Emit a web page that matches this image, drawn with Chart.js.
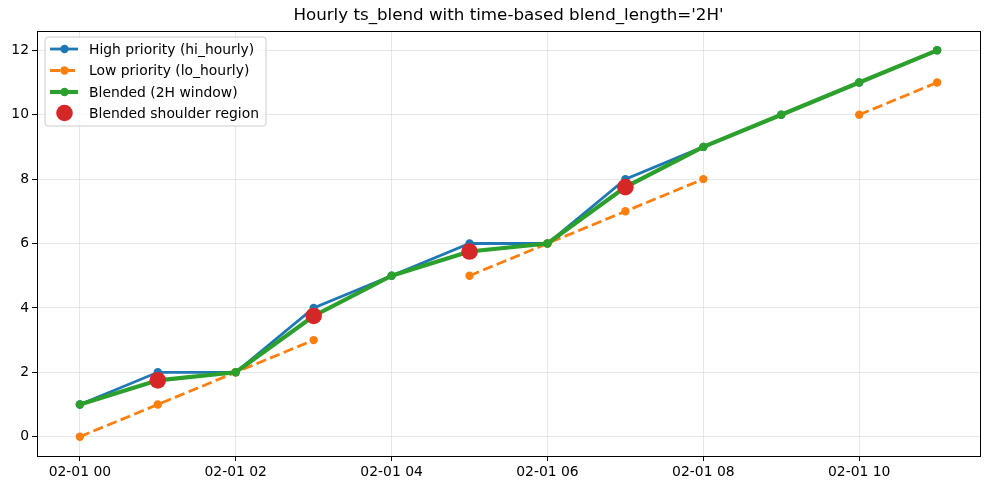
<!DOCTYPE html>
<html>
<head>
<meta charset="utf-8">
<script src="https://cdn.jsdelivr.net/npm/chart.js@4.4.1/dist/chart.umd.min.js"></script>
<style>
html,body{margin:0;padding:0;background:#fff;}
canvas{display:block;}
</style>
</head>
<body>
<canvas id="c" width="989" height="490"></canvas>
<script>
const hours = [0,1,2,3,4,5,6,7,8,9,10,11];
const hiHourly = [1,2,2,4,5,6,6,8,9,10,11,12];
const loHourly = [0,1,2,3,null,5,6,7,8,null,10,11];
const blended = [1,1.75,2,3.75,5,5.75,6,7.75,9,10,11,12];
const shoulderHours = [1,3,5,7];
const shoulderValues = [1.75,3.75,5.75,7.75];
const xTicks = [0,2,4,6,8,10];
const yTicks = [0,2,4,6,8,10,12];
const labels = {
  hi: 'High priority (hi_hourly)',
  lo: 'Low priority (lo_hourly)',
  bl: 'Blended (2H window)',
  sh: 'Blended shoulder region'
};
const titleText = "Hourly ts_blend with time-based blend_length='2H'";

const C = {blue:'#1f77b4', orange:'#ff7f0e', green:'#2ca02c', red:'#d62728'};
const FONT = 'DejaVu Sans';
const pts = (xs, ys) => xs.map((x,i)=>({x:x, y:ys[i]}));

const frame = {
  id:'frame',
  afterDatasetsDraw(chart){
    const {ctx, chartArea:a} = chart;
    ctx.save();
    ctx.strokeStyle = '#000';
    ctx.lineWidth = 1;
    ctx.strokeRect(Math.round(a.left)+0.5, Math.round(a.top)+0.5, Math.round(a.right-a.left), Math.round(a.bottom-a.top));
    // title centred over the axes
    ctx.fillStyle = '#000';
    ctx.font = '16.7px "' + FONT + '"';
    ctx.textAlign = 'center';
    ctx.textBaseline = 'middle';
    ctx.fillText(titleText, (a.left + a.right)/2, 15.5);
    ctx.restore();
    // legend
    const lx = 45, ly = 37, lw = 221, lh = 89, r = 3;
    ctx.save();
    ctx.beginPath();
    ctx.moveTo(lx+r, ly);
    ctx.arcTo(lx+lw, ly, lx+lw, ly+lh, r);
    ctx.arcTo(lx+lw, ly+lh, lx, ly+lh, r);
    ctx.arcTo(lx, ly+lh, lx, ly, r);
    ctx.arcTo(lx, ly, lx+lw, ly, r);
    ctx.closePath();
    ctx.fillStyle = 'rgba(255,255,255,0.8)';
    ctx.fill();
    ctx.strokeStyle = '#cccccc';
    ctx.lineWidth = 1;
    ctx.stroke();
    const rows = [
      {y:49, color:C.blue, lw:2.78, dash:[], r:4.2, line:true, text:labels.hi},
      {y:70.5, color:C.orange, lw:2.78, dash:[10.3,4.4], r:4.2, line:true, text:labels.lo},
      {y:92, color:C.green, lw:4.17, dash:[], r:4.2, line:true, text:labels.bl},
      {y:113, color:C.red, lw:0, dash:[], r:8.3, line:false, text:labels.sh}
    ];
    ctx.font = '13.9px "' + FONT + '"';
    ctx.textBaseline = 'middle';
    ctx.textAlign = 'left';
    rows.forEach(o=>{
      if(o.line){
        ctx.beginPath();
        ctx.setLineDash(o.dash);
        ctx.strokeStyle = o.color;
        ctx.lineWidth = o.lw;
        ctx.moveTo(50, o.y);
        ctx.lineTo(78, o.y);
        ctx.stroke();
        ctx.setLineDash([]);
      }
      ctx.beginPath();
      ctx.fillStyle = o.color;
      ctx.arc(64.5, o.y, o.r, 0, Math.PI*2);
      ctx.fill();
      ctx.fillStyle = '#000';
      ctx.fillText(o.text, 89, o.y+1);
    });
    ctx.restore();
  }
};

new Chart(document.getElementById('c'), {
  type:'line',
  data:{
    datasets:[
      {label:labels.hi, data:pts(hours, hiHourly), borderColor:C.blue, backgroundColor:C.blue,
       borderWidth:2.78, pointRadius:4.2, pointBorderWidth:0, pointBackgroundColor:C.blue, order:4, tension:0},
      {label:labels.lo, data:pts(hours, loHourly), borderColor:C.orange, backgroundColor:C.orange,
       borderWidth:2.78, borderDash:[10.3,4.4], pointRadius:4.2, pointBorderWidth:0, pointBackgroundColor:C.orange,
       spanGaps:false, order:3, tension:0},
      {label:labels.bl, data:pts(hours, blended), borderColor:C.green, backgroundColor:C.green,
       borderWidth:4.17, pointRadius:4.2, pointBorderWidth:0, pointBackgroundColor:C.green, order:2, tension:0},
      {label:labels.sh, data:pts(shoulderHours, shoulderValues), showLine:false, borderColor:C.red, backgroundColor:C.red,
       pointRadius:8.3, pointBorderWidth:0, pointBackgroundColor:C.red, order:1}
    ]
  },
  options:{
    responsive:false,
    animation:false,
    layout:{padding:{left:0, right:9, top:31, bottom:0}},
    plugins:{
      legend:{display:false},
      tooltip:{enabled:false},
      title:{display:false}
    },
    scales:{
      x:{type:'linear', min:-0.55, max:11.55,
        afterBuildTicks(s){ s.ticks = xTicks.map(v=>({value:v})); },
        afterFit(s){ s.height = 34; },
        ticks:{color:'#000', font:{family:FONT, size:13.9}, maxRotation:0, autoSkip:false, padding:3,
          callback:(v)=>'02-01 ' + String(v).padStart(2,'0')},
        grid:{color:'rgba(176,176,176,0.3)', lineWidth:1, tickLength:5, tickColor:'#000', drawOnChartArea:true},
        border:{display:false}
      },
      y:{type:'linear', min:-0.6, max:12.6,
        afterBuildTicks(s){ s.ticks = yTicks.map(v=>({value:v})); },
        afterFit(s){ s.width = 37; },
        ticks:{color:'#000', font:{family:FONT, size:13.9}, padding:3},
        grid:{color:'rgba(176,176,176,0.3)', lineWidth:1, tickLength:5, tickColor:'#000'},
        border:{display:false}
      }
    }
  },
  plugins:[frame]
});
</script>
</body>
</html>
